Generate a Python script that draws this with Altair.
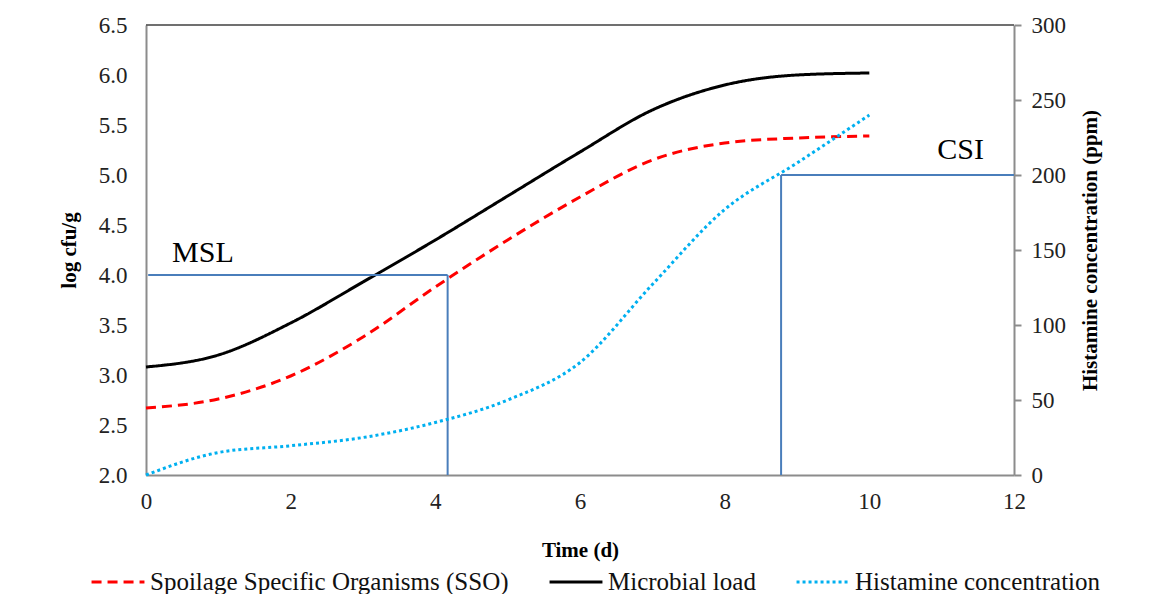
import altair as alt
import pandas as pd

# ---- data ----
days = [0, 1, 2, 3, 4, 5, 6, 7, 8, 9, 10]
microbial_load = [3.08, 3.20, 3.52, 3.93, 4.35, 4.79, 5.23, 5.65, 5.90, 6.00, 6.02]
sso = [2.67, 2.76, 2.99, 3.38, 3.88, 4.35, 4.78, 5.15, 5.32, 5.37, 5.39]
histamine = [0, 15, 19.5, 25, 35, 50, 75, 127, 177, 208, 240]

series_names = ["Spoilage Specific Organisms (SSO)", "Microbial load", "Histamine concentration"]
series_colors = ["#ff0000", "#000000", "#00b0f0"]
series_dashes = [[10, 6], [1, 0], [3, 3]]

x_ticks = [0, 2, 4, 6, 8, 10, 12]
left_ticks = [2.0, 2.5, 3.0, 3.5, 4.0, 4.5, 5.0, 5.5, 6.0, 6.5]
right_ticks = [0, 50, 100, 150, 200, 250, 300]

msl_time = 4.17
msl_level = 4.0
csi_time = 8.78
csi_level = 200
msl_label_pos = [0.36, 4.22]
csi_label_pos = [10.94, 216.7]

FONT = "Liberation Serif"
GRAY = "#8c8c8c"
BLUE = "#4a7ebb"

left_df = pd.DataFrame({
    "day": days * 2,
    "value": sso + microbial_load,
    "series": [series_names[0]] * len(days) + [series_names[1]] * len(days),
})
right_df = pd.DataFrame({"day": days, "value": histamine, "series": [series_names[2]] * len(days)})

x_scale = alt.Scale(domain=[0, 12], nice=False, zero=False)
x_axis = alt.Axis(values=x_ticks, title="Time (d)", grid=False, ticks=False, tickSize=0,
                  domainColor=GRAY, domainWidth=2, labelPadding=15, titlePadding=26,
                  labelFlush=False)
yl_scale = alt.Scale(domain=[2.0, 6.5], nice=False, zero=False)
yl_axis = alt.Axis(values=left_ticks, format=".1f", title="log cfu/g", grid=False, ticks=False,
                   tickSize=0, domainColor=GRAY, domainWidth=2, labelPadding=19, titlePadding=19,
                   orient="left", labelFlush=False)
yr_scale = alt.Scale(domain=[0, 300], nice=False, zero=False)
yr_axis = alt.Axis(values=right_ticks, title="Histamine concentration (ppm)", grid=False, ticks=True,
                   tickSize=7, tickColor=GRAY, tickWidth=2, domainColor=GRAY, domainWidth=2,
                   labelPadding=10, titlePadding=35, titleAngle=270, orient="right",
                   labelFlush=False)


def X(field="day"):
    return alt.X(field, type="quantitative", scale=x_scale, axis=x_axis)


def YL(field="value"):
    return alt.Y(field, type="quantitative", scale=yl_scale, axis=yl_axis)


def YR(field="value"):
    return alt.Y(field, type="quantitative", scale=yr_scale, axis=yr_axis)


legend = alt.Legend(title=None)
color = alt.Color("series:N", scale=alt.Scale(domain=series_names, range=series_colors),
                  legend=legend)
dash = alt.StrokeDash("series:N", scale=alt.Scale(domain=series_names, range=series_dashes),
                      legend=legend)

left_lines = alt.Chart(left_df).mark_line(strokeWidth=3, interpolate="monotone").encode(
    x=X(), y=YL(), color=color, strokeDash=dash)

msl_df = pd.DataFrame({"x1": [0.03, msl_time], "x2": [msl_time, msl_time],
                       "y1": [msl_level, msl_level], "y2": [msl_level, 2.0]})
msl_rules = alt.Chart(msl_df).mark_rule(color=BLUE, strokeWidth=2).encode(
    x=X("x1"), x2="x2", y=YL("y1"), y2="y2")

top_df = pd.DataFrame({"x1": [0], "x2": [12], "y1": [6.5]})
top_rule = alt.Chart(top_df).mark_rule(color="#404040", strokeWidth=1.5).encode(
    x=X("x1"), x2="x2", y=YL("y1"))

msl_text_df = pd.DataFrame({"x": [msl_label_pos[0]], "y": [msl_label_pos[1]], "t": ["MSL"]})
msl_text = alt.Chart(msl_text_df).mark_text(font=FONT, fontSize=30, align="left",
                                            baseline="middle", color="#000").encode(
    x=X("x"), y=YL("y"), text="t:N")

left_layer = alt.layer(left_lines, msl_rules, top_rule, msl_text)

right_line = alt.Chart(right_df).mark_line(strokeWidth=3, interpolate="monotone").encode(
    x=X(), y=YR(), color=color, strokeDash=dash)

csi_df = pd.DataFrame({"x1": [csi_time, csi_time], "x2": [12, csi_time],
                       "y1": [csi_level, csi_level], "y2": [csi_level, 0]})
csi_rules = alt.Chart(csi_df).mark_rule(color=BLUE, strokeWidth=2).encode(
    x=X("x1"), x2="x2", y=YR("y1"), y2="y2")

csi_text_df = pd.DataFrame({"x": [csi_label_pos[0]], "y": [csi_label_pos[1]], "t": ["CSI"]})
csi_text = alt.Chart(csi_text_df).mark_text(font=FONT, fontSize=30, align="left",
                                            baseline="middle", color="#000").encode(
    x=X("x"), y=YR("y"), text="t:N")

right_layer = alt.layer(right_line, csi_rules, csi_text)

chart = alt.layer(left_layer, right_layer).resolve_scale(y="independent").properties(
    width=868, height=450,
    autosize=alt.AutoSizeParams(type="none"),
    padding={"left": 138, "top": 17, "right": 120, "bottom": 119},
).configure(font=FONT).configure_view(stroke=None).configure_axis(
    labelFont=FONT, labelFontSize=23, labelColor="#222222",
    titleFont=FONT, titleFontSize=21, titleFontWeight="bold", titleColor="#000000",
).configure_legend(
    orient="none", legendX=-56, legendY=529, direction="horizontal",
    symbolType="stroke", symbolSize=2800, symbolStrokeWidth=3,
    labelFont=FONT, labelFontSize=25, labelColor="#111111", labelLimit=600, labelOffset=4,
    columnPadding=34,
)

chart.save("out.html", embed_options={"renderer": "svg", "actions": False})
